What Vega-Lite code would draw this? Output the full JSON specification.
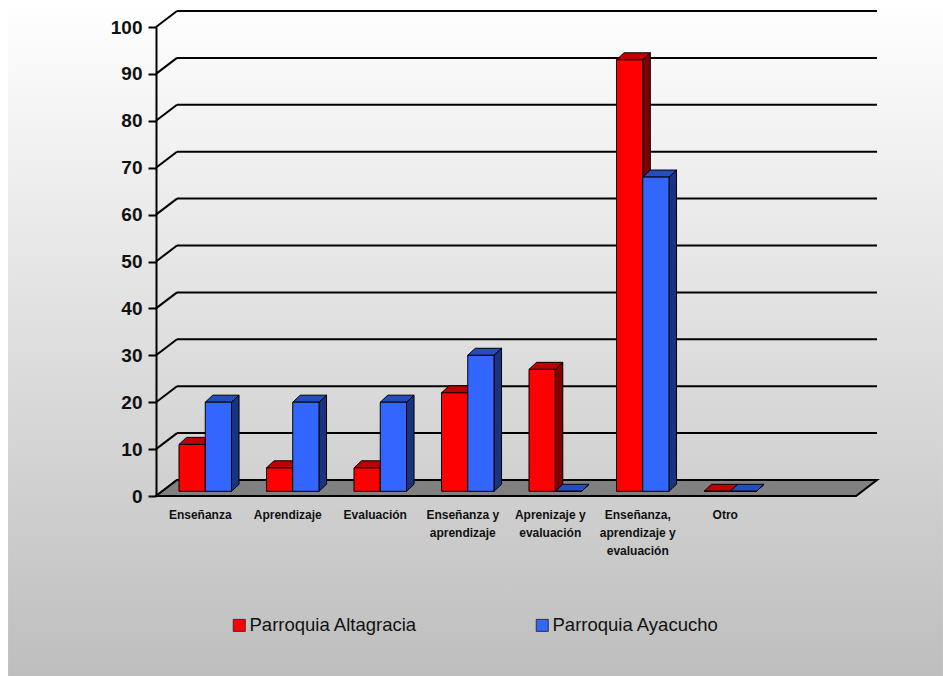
{
"$schema":"https://vega.github.io/schema/vega-lite/v6.json",
"width":721,"height":469,
"autosize":"none",
"padding":{"left":156,"top":27,"right":66,"bottom":180},
"background":"white",
"config":{"view":{"stroke":null},"font":"Liberation Sans",
 "legend":{"orient":"none","legendX":74,"legendY":589,"direction":"horizontal","columns":2,"columnPadding":115,"symbolType":"square","symbolSize":144,"symbolStrokeColor":"#333333","symbolStrokeWidth":1,"labelFont":"Liberation Sans","labelFontSize":18.5,"labelColor":"#111111","labelOffset":1,"labelLimit":300}},
"datasets":{
"bars":[
{"category":"Enseñanza","order":0,"series":"Parroquia Altagracia","value":10},
{"category":"Enseñanza","order":0,"series":"Parroquia Ayacucho","value":19},
{"category":"Aprendizaje","order":1,"series":"Parroquia Altagracia","value":5},
{"category":"Aprendizaje","order":1,"series":"Parroquia Ayacucho","value":19},
{"category":"Evaluación","order":2,"series":"Parroquia Altagracia","value":5},
{"category":"Evaluación","order":2,"series":"Parroquia Ayacucho","value":19},
{"category":"Enseñanza y aprendizaje","order":3,"series":"Parroquia Altagracia","value":21},
{"category":"Enseñanza y aprendizaje","order":3,"series":"Parroquia Ayacucho","value":29},
{"category":"Aprenizaje y evaluación","order":4,"series":"Parroquia Altagracia","value":26},
{"category":"Aprenizaje y evaluación","order":4,"series":"Parroquia Ayacucho","value":0},
{"category":"Enseñanza, aprendizaje y evaluación","order":5,"series":"Parroquia Altagracia","value":92},
{"category":"Enseñanza, aprendizaje y evaluación","order":5,"series":"Parroquia Ayacucho","value":67},
{"category":"Otro","order":6,"series":"Parroquia Altagracia","value":0},
{"category":"Otro","order":6,"series":"Parroquia Ayacucho","value":0}
],
"ticks":[{"tick":0},{"tick":10},{"tick":20},{"tick":30},{"tick":40},{"tick":50},{"tick":60},{"tick":70},{"tick":80},{"tick":90},{"tick":100}]
},
"layer":[
{"data":{"values":[{"panel":"fondo"}]},
 "mark":{"type":"rect","color":{"gradient":"linear","x1":0,"y1":0,"x2":0,"y2":1,"stops":[{"offset":0,"color":"#ffffff"},{"offset":1,"color":"#bebebe"}]}},
 "encoding":{
  "x":{"datum":-1.691,"type":"quantitative","scale":{"domain":[0,8.24],"nice":false,"zero":false},
   "axis":{"values":[0.5,1.5,2.5,3.5,4.5,5.5,6.5],"title":null,"domain":false,"ticks":false,"grid":false,"zindex":1,
    "labelExpr":"split(['Enseñanza','Aprendizaje','Evaluación','Enseñanza y\\naprendizaje','Aprenizaje y\\nevaluación','Enseñanza,\\naprendizaje y\\nevaluación','Otro'][floor(datum.value)],'\\n')",
    "labelFont":"Liberation Sans","labelFontWeight":"bold","labelFontSize":12,"labelColor":"#111111","labelPadding":13,"labelLineHeight":18,"labelOverlap":false,"labelFlush":false,"labelBound":false,"labelAngle":0,"labelDx":-2}},
  "x2":{"datum":8.994},
  "y":{"datum":105.76,"type":"quantitative","scale":{"domain":[0,100],"nice":false,"zero":false},
   "axis":{"values":[0,10,20,30,40,50,60,70,80,90,100],"title":null,"grid":false,"zindex":1,"domainColor":"black","domainWidth":2,"tickColor":"black","tickWidth":2,"tickSize":8,
    "labelFont":"Liberation Sans","labelFontWeight":"bold","labelFontSize":19,"labelColor":"#111111","labelPadding":6}},
  "y2":{"datum":-38.4}
 }},
{"data":{"name":"ticks"},
 "transform":[{"calculate":"datum.tick+3.41","as":"wall"}],
 "mark":{"type":"rule","color":"black","strokeWidth":2},
 "encoding":{"x":{"datum":0,"type":"quantitative"},"x2":{"datum":0.24},"y":{"field":"tick","type":"quantitative"},"y2":{"field":"wall"}}},
{"data":{"name":"ticks"},
 "transform":[{"calculate":"datum.tick+3.41","as":"wall"}],
 "mark":{"type":"rule","color":"black","strokeWidth":2},
 "encoding":{"x":{"datum":0.24,"type":"quantitative"},"x2":{"datum":8.24},"y":{"field":"wall","type":"quantitative"}}},
{"data":{"values":[{"surface":"piso"}]},
 "transform":[
  {"calculate":"[0,0.24,8,8.24]","as":"vx"},
  {"calculate":"[0,3.41,3.41,3.41]","as":"vy"},
  {"calculate":"[0,0,0,3.41]","as":"vy2"},
  {"flatten":["vx","vy","vy2"]}],
 "mark":{"type":"area","orient":"vertical","fill":"#808080","stroke":"black","strokeWidth":2},
 "encoding":{"x":{"field":"vx","type":"quantitative"},"y":{"field":"vy","type":"quantitative","stack":null},"y2":{"field":"vy2"}}},
{"data":{"name":"bars"},
 "transform":[
  {"calculate":"datum.order+0.263+(datum.series=='Parroquia Altagracia'?0:0.3)","as":"x0"},
  {"calculate":"datum.x0+0.3","as":"x1"},
  {"calculate":"datum.value+1","as":"v"},
  {"calculate":"datum.series+' lado'","as":"face"},
  {"calculate":"datum.category+datum.series","as":"key"},
  {"calculate":"[datum.x1,datum.x1+0.086]","as":"vx"},
  {"calculate":"[datum.v,datum.v+1.5]","as":"vy"},
  {"calculate":"[1,2.5]","as":"vy2"},
  {"flatten":["vx","vy","vy2"]}],
 "mark":{"type":"area","orient":"vertical","stroke":"black","strokeWidth":1},
 "encoding":{"x":{"field":"vx","type":"quantitative"},"y":{"field":"vy","type":"quantitative","stack":null},"y2":{"field":"vy2"},"detail":{"field":"key"},
  "color":{"field":"face","type":"nominal","title":null,"legend":{"values":["Parroquia Altagracia","Parroquia Ayacucho"]},
   "scale":{"domain":["Parroquia Altagracia","Parroquia Ayacucho","Parroquia Altagracia lado","Parroquia Ayacucho lado","Parroquia Altagracia techo","Parroquia Ayacucho techo"],"range":["#ff0000","#3366ff","#800000","#1a3380","#bf0000","#264dbf"]}}}},
{"data":{"name":"bars"},
 "transform":[
  {"calculate":"datum.order+0.263+(datum.series=='Parroquia Altagracia'?0:0.3)","as":"x0"},
  {"calculate":"datum.x0+0.3","as":"x1"},
  {"calculate":"datum.value+1","as":"v"},
  {"calculate":"datum.series+' techo'","as":"face"},
  {"calculate":"datum.category+datum.series","as":"key"},
  {"calculate":"[datum.x0,datum.x0+0.086,datum.x1,datum.x1+0.086]","as":"vx"},
  {"calculate":"[datum.v,datum.v+1.5,datum.v+1.5,datum.v+1.5]","as":"vy"},
  {"calculate":"[datum.v,datum.v,datum.v,datum.v+1.5]","as":"vy2"},
  {"flatten":["vx","vy","vy2"]}],
 "mark":{"type":"area","orient":"vertical","stroke":"black","strokeWidth":1},
 "encoding":{"x":{"field":"vx","type":"quantitative"},"y":{"field":"vy","type":"quantitative","stack":null},"y2":{"field":"vy2"},"detail":{"field":"key"},
  "color":{"field":"face","type":"nominal","title":null,"legend":{"values":["Parroquia Altagracia","Parroquia Ayacucho"]}}}},
{"data":{"name":"bars"},
 "transform":[
  {"calculate":"datum.order+0.263+(datum.series=='Parroquia Altagracia'?0:0.3)","as":"x0"},
  {"calculate":"datum.x0+0.3","as":"x1"},
  {"calculate":"datum.value+1","as":"v"},
  {"calculate":"1","as":"base"}],
 "mark":{"type":"rect","stroke":"black","strokeWidth":1},
 "encoding":{"x":{"field":"x0","type":"quantitative"},"x2":{"field":"x1"},"y":{"field":"v","type":"quantitative"},"y2":{"field":"base"},
  "color":{"field":"series","type":"nominal","title":null,"legend":{"values":["Parroquia Altagracia","Parroquia Ayacucho"]}}}}
]
}
